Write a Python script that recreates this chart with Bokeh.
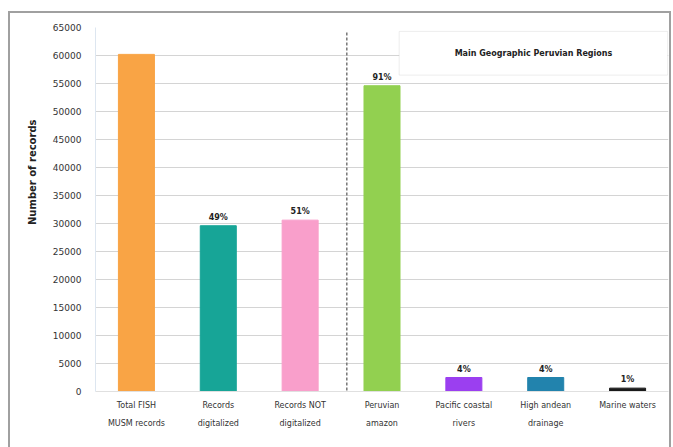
from bokeh.plotting import figure
from bokeh.models import ColumnDataSource, Label, BoxAnnotation, Arrow, FixedTicker, Title
from bokeh.core.properties import value
from bokeh.embed import file_html
from bokeh.resources import INLINE

categories = ["Total FISH\nMUSM records", "Records\ndigitalized", "Records NOT\ndigitalized",
              "Peruvian\namazon", "Pacific coastal\nrivers", "High andean\ndrainage", "Marine waters"]
values = [60200, 29600, 30600, 54600, 2500, 2500, 600]
pct_labels = ["", "49%", "51%", "91%", "4%", "4%", "1%"]
colors = ["#f9a445", "#17a597", "#f99fcb", "#92d050", "#9b3ff0", "#2283ad", "#1a1a1a"]
y_ticks = list(range(0, 65001, 5000))
box_title = "Main Geographic Peruvian Regions"
y_label = "Number of records"

src = ColumnDataSource(dict(cat=categories, val=values, pct=pct_labels, color=colors))

p = figure(x_range=categories, y_range=(0, 65000), width=663, height=436,
           output_backend="svg", toolbar_location=None,
           min_border_left=85, min_border_right=5, min_border_top=14, min_border_bottom=58)
p.margin = (11, 0, 0, 8)
p.styles = {"border-top": "2px solid #a0a0a0", "border-left": "2px solid #a0a0a0",
            "border-right": "2px solid #a0a0a0"}
p.x_range.range_padding = 0
p.outline_line_color = None
p.background_fill_color = "white"

p.vbar(x="cat", top="val", width=0.44, color="color", source=src)

p.text(x="cat", y="val", text="pct", source=src, text_align="center",
       text_baseline="bottom", y_offset=-4, text_font_size="8px", text_font_style="bold",
       text_color="#222222", text_font=value("DejaVu Sans"))

p.yaxis.ticker = FixedTicker(ticks=y_ticks)
p.ygrid.ticker = FixedTicker(ticks=y_ticks)
p.ygrid.grid_line_color = "#d4d4d4"
p.xgrid.grid_line_color = None
p.yaxis.major_tick_line_color = None
p.yaxis.minor_tick_line_color = None
p.yaxis.axis_line_color = "#dde6f0"
p.yaxis.major_label_text_font = "DejaVu Sans"
p.yaxis.major_label_text_font_size = "9px"
p.yaxis.major_label_text_color = "#333333"
p.yaxis.major_label_standoff = 8

p.xaxis.major_tick_line_color = None
p.xaxis.axis_line_color = "#e0e0e0"
p.xaxis.major_label_text_font = "DejaVu Sans"
p.xaxis.major_label_text_font_size = "8px"
p.xaxis.major_label_text_color = "#333333"
p.xaxis.major_label_text_line_height = 2.0
p.xaxis.major_label_standoff = 3

p.add_layout(Arrow(x_start=3.07, y_start=64100, x_end=3.07, y_end=-5000, end=None,
                   line_color="#777777", line_width=1.5, line_dash="3 2"))

p.add_layout(BoxAnnotation(left=3.71, right=6.99, bottom=56500, top=64300,
                           fill_color="white", fill_alpha=1.0,
                           line_color="#c8c8c8", line_width=1))
p.add_layout(Label(x=5.35, y=60400, text=box_title, text_align="center",
                   text_baseline="middle", text_font="DejaVu Sans", text_font_size="8px",
                   text_font_style="bold", text_color="#222222"))

p.add_layout(Title(text=y_label, align="right", offset=92, standoff=24, text_font="DejaVu Sans",
                   text_font_size="10px", text_font_style="bold", text_color="#222222"),
             "left")

open("out.html", "w").write(file_html(p, INLINE))
